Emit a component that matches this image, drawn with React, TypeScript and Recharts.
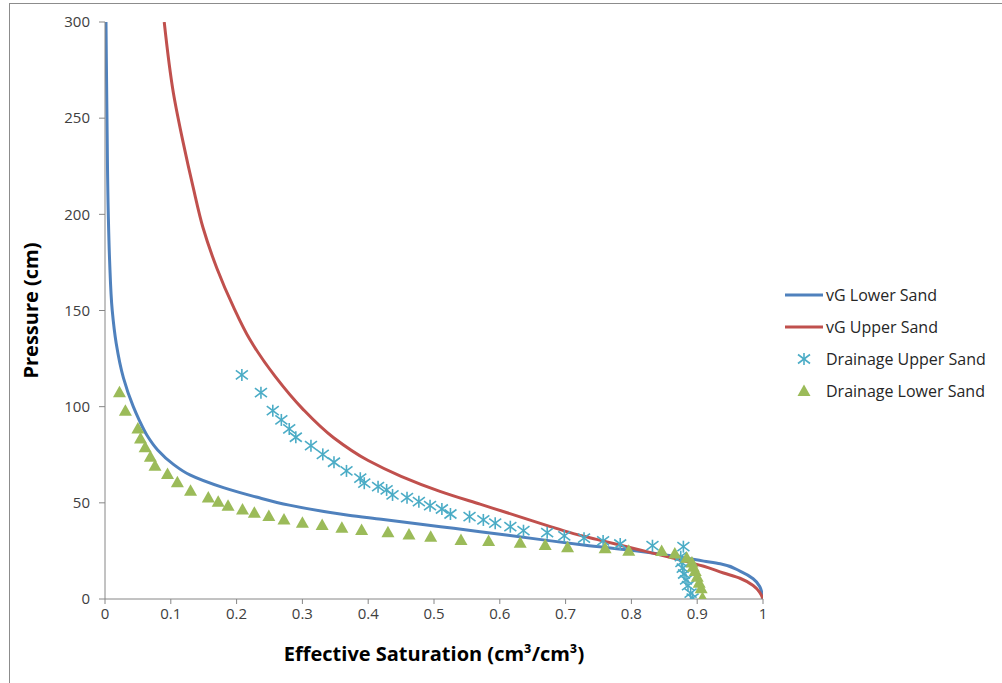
import React from 'react';
import { ComposedChart, Line, Scatter, XAxis, YAxis, Legend } from 'recharts';

// vG Lower Sand curve (saturation, pressure)
const vgLowerX = [0.0015, 0.003, 0.005, 0.007, 0.011, 0.017, 0.028, 0.043, 0.052, 0.064, 0.08, 0.104, 0.129, 0.18, 0.23, 0.28, 0.37, 0.42, 0.51, 0.57, 0.66, 0.73, 0.8, 0.86, 0.91, 0.935, 0.965, 0.985, 0.995, 1.0];
const vgLowerY = [300, 250, 200, 176, 150, 133, 115, 100, 93, 85, 77.5, 70, 64.5, 57.9, 53, 48.8, 43.6, 41.5, 37.6, 35, 31, 28, 25.3, 22.5, 19.7, 18.3, 14.5, 10.5, 6.5, 0];

// vG Upper Sand curve
const vgUpperX = [0.09, 0.104, 0.119, 0.134, 0.149, 0.17, 0.195, 0.22, 0.258, 0.3, 0.347, 0.4, 0.45, 0.509, 0.57, 0.61, 0.671, 0.712, 0.747, 0.813, 0.86, 0.91, 0.94, 0.965, 0.985, 0.995, 1.0];
const vgUpperY = [300, 263, 237, 214, 193, 172, 152, 135, 116, 99, 84, 72, 63.8, 56, 49.3, 45, 38.3, 34, 31, 25.5, 21.5, 17, 13.5, 10.8, 7, 3.5, 0];

// Drainage Upper Sand (measured)
const drainUpperX = [0.208, 0.237, 0.255, 0.268, 0.28, 0.29, 0.313, 0.331, 0.348, 0.367, 0.388, 0.394, 0.415, 0.428, 0.437, 0.459, 0.477, 0.494, 0.512, 0.525, 0.554, 0.575, 0.593, 0.616, 0.636, 0.672, 0.698, 0.728, 0.757, 0.783, 0.832, 0.879, 0.875, 0.876, 0.878, 0.88, 0.883, 0.886, 0.89, 0.893];
const drainUpperY = [116.5, 107.3, 97.9, 93.1, 88.4, 84.1, 79.7, 75.2, 71.1, 66.6, 62.8, 60.2, 58.4, 56.7, 54.1, 52.7, 50.6, 48.5, 46.8, 44.2, 42.8, 41.1, 39.4, 37.6, 35.5, 34.5, 32.8, 31.6, 30.2, 28.6, 27.7, 27.2, 22, 19, 16, 13, 10, 7, 3, 0.5];

// Drainage Lower Sand (measured)
const drainLowerX = [0.022, 0.031, 0.05, 0.054, 0.061, 0.069, 0.076, 0.095, 0.11, 0.13, 0.157, 0.172, 0.187, 0.209, 0.227, 0.249, 0.272, 0.3, 0.33, 0.36, 0.39, 0.43, 0.462, 0.495, 0.541, 0.583, 0.631, 0.669, 0.703, 0.76, 0.796, 0.846, 0.866, 0.884, 0.892, 0.894, 0.897, 0.9, 0.903, 0.906, 0.908];
const drainLowerY = [107.5, 97.9, 88.7, 83.5, 78.9, 74, 69.3, 65, 60.7, 56.3, 52.8, 50.5, 48.5, 46.5, 44.9, 43.2, 41.3, 39.7, 38.5, 37.1, 35.9, 34.7, 33.6, 32.4, 30.7, 30.2, 29.3, 28.1, 26.9, 26.4, 25.1, 25, 23.6, 21.5, 19, 16.8, 14.5, 11.6, 8.5, 5.6, 0.5];

const xTicks = [0, 0.1, 0.2, 0.3, 0.4, 0.5, 0.6, 0.7, 0.8, 0.9, 1];
const yTicks = [0, 50, 100, 150, 200, 250, 300];

const zip = (xs: number[], ys: number[]) => xs.map((x, i) => ({ x, y: ys[i] }));
const lowerCurve = zip(vgLowerX, vgLowerY);
const upperCurve = zip(vgUpperX, vgUpperY);
const upperDrain = zip(drainUpperX, drainUpperY);
const lowerDrain = zip(drainLowerX, drainLowerY);

const BLUE = '#4F81BD';
const RED = '#C0504D';
const CYAN = '#4BACC6';
const GREEN = '#9BBB59';

const Star = (props: any) => {
  const { cx, cy } = props;
  if (cx == null || cy == null) return null;
  const r = 6;
  return (
    <g stroke={CYAN} strokeWidth={1.6} fill="none">
      <line x1={cx} y1={cy - r} x2={cx} y2={cy + r} />
      <line x1={cx - r} y1={cy - r * 0.75} x2={cx + r} y2={cy + r * 0.75} />
      <line x1={cx - r} y1={cy + r * 0.75} x2={cx + r} y2={cy - r * 0.75} />
    </g>
  );
};

const Tri = (props: any) => {
  const { cx, cy } = props;
  if (cx == null || cy == null) return null;
  return (
    <polygon
      points={`${cx},${cy - 6.5} ${cx - 6.5},${cy + 5} ${cx + 6.5},${cy + 5}`}
      fill={GREEN}
    />
  );
};

const legendItems = [
  { name: 'vG Lower Sand', kind: 'line', color: BLUE },
  { name: 'vG Upper Sand', kind: 'line', color: RED },
  { name: 'Drainage Upper Sand', kind: 'star', color: CYAN },
  { name: 'Drainage Lower Sand', kind: 'tri', color: GREEN },
];

const renderLegend = () => (
  <div style={{ fontFamily: "'Open Sans', sans-serif", fontSize: 16, color: '#262626' }}>
    {legendItems.map((it) => (
      <div key={it.name} style={{ display: 'flex', alignItems: 'center', height: 32 }}>
        <svg width={40} height={20} style={{ marginRight: 1 }}>
          {it.kind === 'line' && <line x1={0} y1={10} x2={38} y2={10} stroke={it.color} strokeWidth={3} />}
          {it.kind === 'star' && <Star cx={19} cy={10} />}
          {it.kind === 'tri' && <Tri cx={19} cy={10} />}
        </svg>
        <span>{it.name}</span>
      </div>
    ))}
  </div>
);

const tickStyle = { fontFamily: "'Open Sans', sans-serif", fontSize: 15, fill: '#404040' };
const titleStyle = { fontFamily: "'Open Sans', sans-serif", fontSize: 20, fontWeight: 'bold', fill: '#000' };

export default function App() {
  return (
    <div style={{ position: 'absolute', left: 0, top: 0, width: 1002, height: 683, overflow: 'hidden', background: '#fff' }}>
      <div style={{ position: 'absolute', left: 9, top: 3, width: 1100, height: 800, border: '1px solid #8c8c8c' }} />
      <div style={{ position: 'absolute', left: 0, top: 0 }}>
        <ComposedChart width={1002} height={683} margin={{ top: 22, right: 239, bottom: 22, left: 10 }}>
          <XAxis
            type="number"
            dataKey="x"
            domain={[0, 1]}
            ticks={xTicks}
            allowDataOverflow
            tickSize={5}
            tickMargin={4}
            height={62}
            stroke="#868686"
            tick={tickStyle}
            tickLine={{ stroke: '#868686' }}
            label={{
              value: 'Effective Saturation (cm³/cm³)',
              position: 'insideBottom',
              offset: 0,
              style: titleStyle,
            }}
          />
          <YAxis
            type="number"
            dataKey="y"
            domain={[0, 300]}
            ticks={yTicks}
            allowDataOverflow
            width={95}
            tickSize={6}
            tickMargin={9}
            stroke="#868686"
            tick={tickStyle}
            tickLine={{ stroke: '#868686' }}
            label={{
              value: 'Pressure (cm)',
              angle: -90,
              position: 'insideLeft',
              offset: 21,
              style: { ...titleStyle, textAnchor: 'middle' },
            }}
          />
          <Legend
            layout="vertical"
            align="center"
            verticalAlign="middle"
            content={renderLegend}
            wrapperStyle={{ left: 785, top: 279, width: 215 }}
          />
          <Line
            data={lowerCurve}
            dataKey="y"
            name="vG Lower Sand"
            type="monotoneY"
            stroke={BLUE}
            strokeWidth={3}
            dot={false}
            activeDot={false}
            isAnimationActive={false}
          />
          <Line
            data={upperCurve}
            dataKey="y"
            name="vG Upper Sand"
            type="monotoneY"
            stroke={RED}
            strokeWidth={3}
            dot={false}
            activeDot={false}
            isAnimationActive={false}
          />
          <Scatter data={upperDrain} dataKey="y" name="Drainage Upper Sand" shape={Star} isAnimationActive={false} />
          <Scatter data={lowerDrain} dataKey="y" name="Drainage Lower Sand" shape={Tri} isAnimationActive={false} />
        </ComposedChart>
      </div>
    </div>
  );
}
